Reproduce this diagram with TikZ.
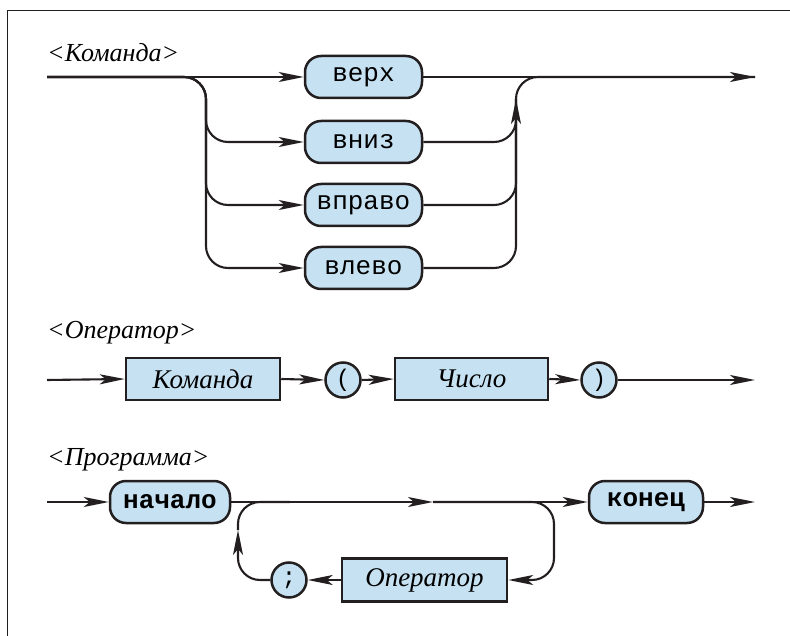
\documentclass[tikz,border=0pt]{standalone}
\usepackage{fontspec}
\setmainfont{Liberation Serif}
\setmonofont{Liberation Mono}
\usetikzlibrary{arrows.meta}
\definecolor{ink}{HTML}{231F20}
\definecolor{boxfill}{HTML}{C5E1F2}
\tikzset{
  wire/.style={draw=ink, line width=2.1pt},
  tip/.style={-{Stealth[length=25pt,width=10pt,inset=6pt]}},
  box/.style={draw=ink, fill=boxfill, line width=2.5pt, inner sep=0pt},
  term/.style={box, rounded corners=16pt, minimum height=42pt,
    font=\ttfamily\fontsize{26}{30}\selectfont},
  keyterm/.style={term, font=\ttfamily\bfseries\fontsize{26}{30}\selectfont},
  nonterm/.style={box, minimum height=42pt,
    font=\itshape\fontsize{27}{30}\selectfont},
  sym/.style={box, circle, minimum size=35pt,
    font=\ttfamily\fontsize{24}{28}\selectfont},
  title/.style={anchor=base west, inner sep=0pt,
    font=\itshape\fontsize{26}{30}\selectfont}
}
\begin{document}
\begin{tikzpicture}[x=1pt,y=-1pt]
\useasboundingbox (0,0) rectangle (790,636);
% frame
\draw[draw=ink, line width=1.4pt] (7.5,660) -- (7.5,10.5) -- (810,10.5);

% ---------- <Команда> ----------
\node[title] (t1) at (47,62) {<Команда>};
\node[term, minimum width=117pt] (verh)  at (363.5,77)  {верх};
\node[term, minimum width=117pt] (vniz)  at (363.5,142) {вниз};
\node[term, minimum width=117pt] (vpravo) at (363.5,205) {вправо};
\node[term, minimum width=117pt] (vlevo) at (363.5,268) {влево};
\coordinate (cStart) at (47,77);
\coordinate (cEnd) at (755,77);
\coordinate (cFork) at (206,77);
\coordinate (cJoin) at (516,99);

\draw[wire,tip] (cStart) -- (verh.west);
\foreach \b in {vniz,vpravo,vlevo}
  \draw[wire,tip,rounded corners=22pt] (cStart) -| (cFork |- \b.west) -- (\b.west);
\draw[wire,tip] (verh.east) -- (cEnd);
\draw[wire,rounded corners=22pt] (vniz.east) -| (cJoin);
\draw[wire,rounded corners=22pt] (vpravo.east) -| (cJoin);
\draw[wire,tip,rounded corners=22pt] (vlevo.east) -| (cJoin);
\draw[wire,rounded corners=22pt] (cJoin) |- (cEnd);

% ---------- <Оператор> ----------
\node[title] (t2) at (47,338) {<Оператор>};
\node[nonterm, minimum width=154pt] (kom) at (203,379) {Команда};
\node[sym] (lp) at (343,380) {(};
\node[nonterm, minimum width=153pt] (chislo) at (471.5,379) {Число};
\node[sym] (rp) at (599,380) {)};
\coordinate (oStart) at (47,380);
\coordinate (oEnd) at (755,380);
\draw[wire,tip] (oStart) -- (kom.west);
\draw[wire,tip] (kom.east) -- (lp.west);
\draw[wire,tip] (lp.east) -- (chislo.west);
\draw[wire,tip] (chislo.east) -- (rp.west);
\draw[wire,tip] (rp.east) -- (oEnd);

% ---------- <Программа> ----------
\node[title] (t3) at (47,465) {<Программа>};
\node[keyterm, minimum width=120pt] (nach) at (170,502) {начало};
\node[keyterm, minimum width=114pt] (kon) at (646,502) {конец};
\node[nonterm, minimum width=165pt, minimum height=43pt] (oper) at (424.5,580) {Оператор};
\node[sym] (semi) at (289,580) {;};
\coordinate (pStart) at (47,502);
\coordinate (pMid) at (433,502);
\coordinate (pEnd) at (755,502);
\coordinate (pLoopR) at (554,502);
\coordinate (pLoopL) at (238,530);
\coordinate (pMerge) at (290,502);
\draw[wire,tip] (pStart) -- (nach.west);
\draw[wire,tip] (nach.east) -- (pMid);
\draw[wire,tip] (pMid) -- (kon.west);
\draw[wire,tip] (kon.east) -- (pEnd);
\draw[wire,tip,rounded corners=22pt] (pMid) -| (pLoopR |- oper.east) -- (oper.east);
\draw[wire,tip] (oper.west) -- (semi.east);
\draw[wire,tip,rounded corners=22pt] (semi.west) -| (pLoopL);
\draw[wire,rounded corners=22pt] (pLoopL) |- (pMerge);
\end{tikzpicture}
\end{document}
